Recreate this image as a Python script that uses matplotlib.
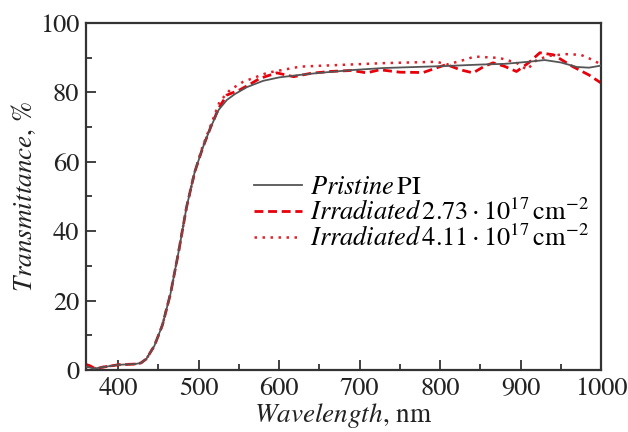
import matplotlib
matplotlib.use("Agg")
import matplotlib.pyplot as plt
from matplotlib.ticker import MultipleLocator

plt.rcParams['font.family'] = ['STIXGeneral', 'DejaVu Serif']
plt.rcParams['mathtext.fontset'] = 'stix'

# Pristine PI
wl_pristine = [360, 370, 380, 400, 420, 428, 435, 445, 455, 465, 475, 485, 495, 505, 515, 525,
               535, 545, 560, 580, 600, 625, 650, 690, 730, 770, 810, 850, 880, 910, 930,
               950, 970, 985, 1000]
t_pristine = [1.0, 0.4, 0.8, 1.5, 1.7, 2.0, 3.2, 7, 13, 22, 34, 47, 57, 64, 70, 75,
              77.8, 79.5, 81.5, 83.3, 84.3, 85.0, 85.6, 86.4, 87.0, 87.3, 87.6, 88.0, 88.2, 88.8, 89.3,
              88.6, 87.3, 87.1, 87.7]

# Irradiated 2.73e17
wl_irr1 = [360, 365, 372, 380, 400, 420, 428, 435, 445, 455, 465, 475, 485, 495, 505, 515, 525,
           535, 551, 565, 576, 597, 618, 640, 663, 690, 709, 725, 750, 779, 795, 808, 825, 841,
           855, 866, 880, 895, 910, 924, 941, 965, 985, 1000]
t_irr1 = [1.6, 1.2, 0.3, 0.8, 1.5, 1.7, 2.0, 3.2, 7, 13, 22, 34, 47, 57, 64, 70, 75.5,
          79.2, 80.7, 82.5, 84.0, 85.6, 84.5, 85.5, 86.0, 86.3, 85.6, 86.5, 85.8, 85.7, 87.0, 88.0, 86.5, 85.6,
          87.5, 88.5, 87.5, 86.0, 88.5, 91.4, 90.8, 87.4, 85.0, 82.7]

# Irradiated 4.11e17
wl_irr2 = [360, 370, 380, 400, 420, 428, 435, 445, 455, 465, 475, 485, 495, 505, 515, 526,
           539, 555, 585, 626, 667, 729, 796, 808, 825, 843, 874, 895, 908, 920, 935, 957,
           975, 990, 1000]
t_irr2 = [1.0, 0.4, 0.8, 1.5, 1.7, 2.0, 3.2, 7, 13, 22, 34, 47, 57, 64.5, 70.5, 77.3,
          80.7, 83.0, 85.6, 87.4, 87.8, 88.4, 88.8, 88.0, 89.0, 90.3, 89.9, 88.5, 86.5, 89.3, 90.5, 91.0,
          90.8, 89.3, 88.0]

labels = [r'$\mathit{Pristine}\,\mathrm{PI}$',
          r'$\mathit{Irradiated}\,2.73\cdot10^{17}\,\mathrm{cm}^{-2}$',
          r'$\mathit{Irradiated}\,4.11\cdot10^{17}\,\mathrm{cm}^{-2}$']

fig = plt.figure(figsize=(6.28, 4.32), dpi=100)
ax = fig.add_axes([0.137, 0.1435, 0.82, 0.8035])

ax.plot(wl_pristine, t_pristine, color='#555555', lw=1.3, label=labels[0], zorder=3)
ax.plot(wl_irr1, t_irr1, color='#e8000b', lw=2.0, ls=(0, (3.2, 1.7)), label=labels[1], zorder=2)
ax.plot(wl_irr2, t_irr2, color='#e0202a', lw=1.8, ls=(0, (1, 2.2)), label=labels[2], zorder=2)

ax.set_xlim(360, 1000)
ax.set_ylim(0, 100)
ax.xaxis.set_major_locator(MultipleLocator(100))
ax.xaxis.set_minor_locator(MultipleLocator(50))
ax.yaxis.set_major_locator(MultipleLocator(20))
ax.yaxis.set_minor_locator(MultipleLocator(10))
ax.tick_params(which='both', direction='in', colors='#333333', labelcolor='#222222',
               labelsize=19, width=1.3)
ax.tick_params(which='major', length=7)
ax.tick_params(which='minor', length=4.5)
ax.tick_params(axis='x', pad=5)
ax.tick_params(axis='y', pad=5)
for s in ax.spines.values():
    s.set_linewidth(1.6)
    s.set_color('#333333')

ax.set_xlabel(r'$\mathit{Wavelength}$, nm', fontsize=19.5, color='#222222', labelpad=0)
ax.set_ylabel(r'$\mathit{Transmittance}$, %', fontsize=19.5, color='#222222', labelpad=1)

ax.legend(loc='upper left', bbox_to_anchor=(0.327, 0.56), frameon=False, fontsize=19,
          handlelength=1.8, handletextpad=0.3, labelspacing=0.0, borderaxespad=0,
          borderpad=0)

fig.savefig('out.png', dpi=100)
